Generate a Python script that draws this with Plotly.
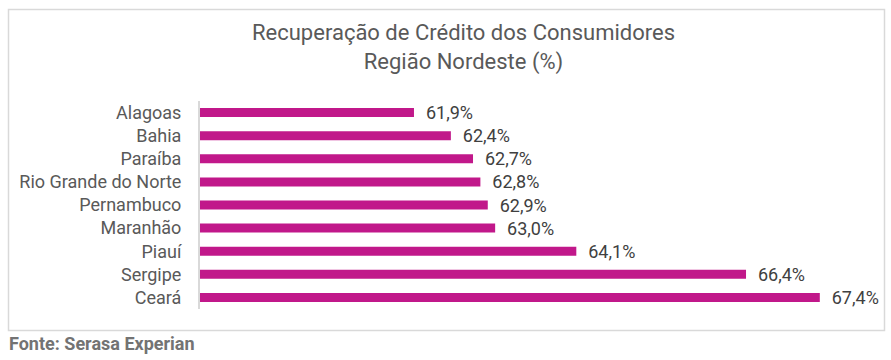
import plotly.graph_objects as go

states = ["Alagoas", "Bahia", "Paraíba", "Rio Grande do Norte", "Pernambuco",
          "Maranhão", "Piauí", "Sergipe", "Ceará"]
values = [61.9, 62.4, 62.7, 62.8, 62.9, 63.0, 64.1, 66.4, 67.4]
labels = ["  " + f"{v:.1f}".replace(".", ",") + "%" for v in values]

W, H = 891, 360
BAR = "#C1188A"

fig = go.Figure(go.Bar(
    x=values, y=states, orientation="h",
    marker=dict(color=BAR, line=dict(width=0)),
    width=0.39,
    text=labels, textposition="outside", cliponaxis=False, constraintext="none",
    textfont=dict(family="Roboto", size=18, color="#404040"),
    hoverinfo="skip",
))

fig.update_layout(
    width=W, height=H,
    margin=dict(l=0, r=0, t=0, b=0),
    paper_bgcolor="white", plot_bgcolor="white",
    showlegend=False,
    font=dict(family="Roboto", color="#595959"),
    xaxis=dict(domain=[200 / W, 884 / W], range=[59, 68.27], visible=False,
               showgrid=False, zeroline=False),
    yaxis=dict(domain=[1 - 309 / H, 1 - 101 / H], autorange="reversed",
               categoryorder="array", categoryarray=states,
               showline=True, linecolor="#d9d9d9", linewidth=2,
               showgrid=False, zeroline=False, ticks="",
               ticklabelstandoff=13,
               tickfont=dict(family="Roboto", size=18, color="#595959")),
    shapes=[dict(type="rect", xref="paper", yref="paper",
                 x0=8.5 / W, x1=884.5 / W, y0=1 - 330.5 / H, y1=1 - 9.5 / H,
                 line=dict(color="#d9d9d9", width=1.5), fillcolor="rgba(0,0,0,0)",
                 layer="below")],
    annotations=[
        dict(text="Recuperação de Crédito dos Consumidores<br>Região Nordeste (%)",
             xref="paper", yref="paper", x=464 / W, y=1 - 48 / H,
             xanchor="center", yanchor="middle", showarrow=False,
             font=dict(family="Roboto", size=22, color="#595959")),
        dict(text="<b>Fonte: Serasa Experian</b>",
             xref="paper", yref="paper", x=7 / W, y=1 - 343 / H,
             xanchor="left", yanchor="middle", showarrow=False,
             font=dict(family="Roboto", size=18, color="#737373")),
    ],
)

fig.write_html("out.html", config={"displayModeBar": False},
               post_script="document.body.style.margin='0';")
